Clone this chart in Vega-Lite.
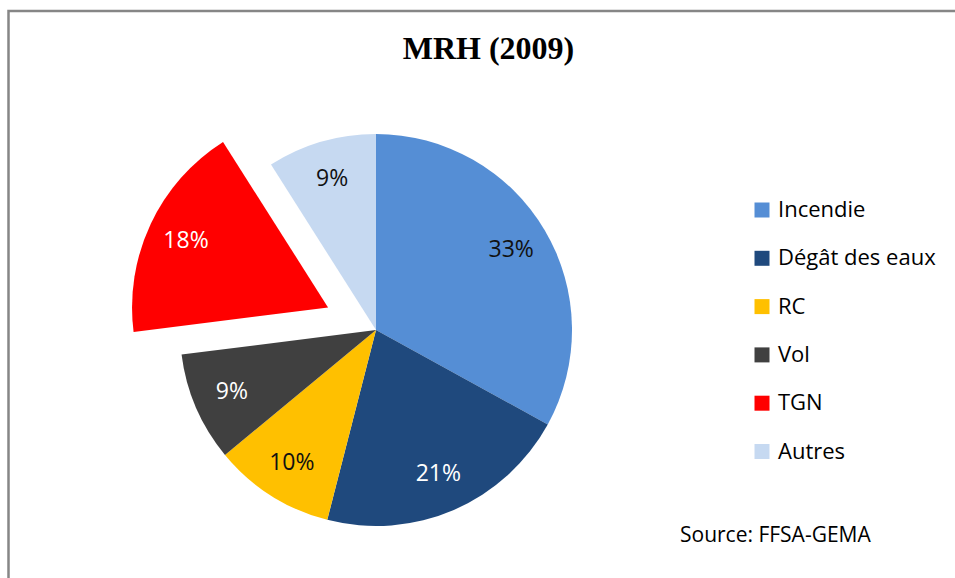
{
  "$schema": "https://vega.github.io/schema/vega-lite/v6.json",
  "width": 960,
  "height": 580,
  "autosize": "none",
  "padding": {"left": 8.5, "top": 11, "right": -13.5, "bottom": -13},
  "background": "white",
  "view": {"stroke": "#868686", "strokeWidth": 2.5, "fill": null},
  "title": {"text": "MRH (2009)", "font": "Liberation Serif", "fontSize": 32, "fontWeight": "bold", "color": "#000000", "anchor": "start", "frame": "group", "offset": 0, "baseline": "alphabetic", "align": "center", "dy": 80, "dx": 480},
  "data": {"values": [
    {"cat": "Incendie", "value": 0.33},
    {"cat": "Dégât des eaux", "value": 0.21},
    {"cat": "RC", "value": 0.10},
    {"cat": "Vol", "value": 0.09},
    {"cat": "TGN", "value": 0.18},
    {"cat": "Autres", "value": 0.09}
  ]},
  "transform": [
    {"window": [{"op": "row_number", "as": "idx"}]}
  ],
  "layer": [
    {
      "transform": [
        {"stack": "value", "groupby": [], "sort": [{"field": "idx"}], "as": ["v0", "v1"]},
        {"filter": "datum.cat !== 'TGN'"}
      ],
      "mark": {"type": "arc", "outerRadius": 196, "x": 367.5, "y": 319},
      "encoding": {
        "theta": {"field": "v0", "type": "quantitative", "scale": {"domain": [0, 1]}},
        "theta2": {"field": "v1"},
        "color": {"field": "cat", "type": "nominal",
          "scale": {"domain": ["Incendie", "Dégât des eaux", "RC", "Vol", "TGN", "Autres"], "range": ["#558ED5", "#1F497D", "#FFC000", "#404040", "#FF0000", "#C6D9F1"]},
          "legend": {"orient": "none", "legendX": 742.5, "legendY": 188, "title": null, "symbolType": "square", "symbolSize": 225, "symbolStrokeWidth": 0, "symbolOpacity": 1, "labelFont": "Open Sans", "labelFontSize": 22, "labelColor": "#000000", "labelOffset": 5, "rowPadding": 26.3, "padding": 0, "labelLimit": 300}}
      }
    },
    {
      "transform": [
        {"stack": "value", "groupby": [], "sort": [{"field": "idx"}], "as": ["v0", "v1"]},
        {"filter": "datum.cat === 'TGN'"}
      ],
      "mark": {"type": "arc", "outerRadius": 196, "x": 319.55, "y": 296.43},
      "encoding": {
        "theta": {"field": "v0", "type": "quantitative", "scale": {"domain": [0, 1]}},
        "theta2": {"field": "v1"},
        "color": {"field": "cat", "type": "nominal"}
      }
    },
    {
      "mark": {"type": "text", "radius": 157, "x": 367.5, "y": 319, "font": "Open Sans", "fontSize": 23, "align": "center", "baseline": "middle"},
      "encoding": {
        "theta": {"field": "value", "type": "quantitative", "stack": true, "scale": {"domain": [0, 1]}},
        "order": {"field": "idx", "type": "quantitative", "sort": "ascending"},
        "text": {"field": "value", "type": "quantitative", "format": ".0%"},
        "color": {"condition": {"test": "datum.cat === 'Dégât des eaux' || datum.cat === 'Vol' || datum.cat === 'TGN'", "value": "#FFFFFF"}, "value": "#111111"},
        "opacity": {"condition": {"test": "datum.cat === 'TGN'", "value": 0}, "value": 1}
      }
    },
    {
      "mark": {"type": "text", "radius": 157, "x": 319.55, "y": 296.43, "font": "Open Sans", "fontSize": 23, "align": "center", "baseline": "middle"},
      "encoding": {
        "theta": {"field": "value", "type": "quantitative", "stack": true, "scale": {"domain": [0, 1]}},
        "order": {"field": "idx", "type": "quantitative", "sort": "ascending"},
        "text": {"field": "value", "type": "quantitative", "format": ".0%"},
        "color": {"value": "#FFFFFF"},
        "opacity": {"condition": {"test": "datum.cat === 'TGN'", "value": 1}, "value": 0}
      }
    },
    {
      "data": {"values": [{"src": "Source: FFSA-GEMA"}]},
      "transform": [],
      "mark": {"type": "text", "x": 671.5, "y": 531, "align": "left", "baseline": "alphabetic", "font": "Open Sans", "fontSize": 21, "color": "#000000"},
      "encoding": {"text": {"field": "src", "type": "nominal"}}
    }
  ]
}
